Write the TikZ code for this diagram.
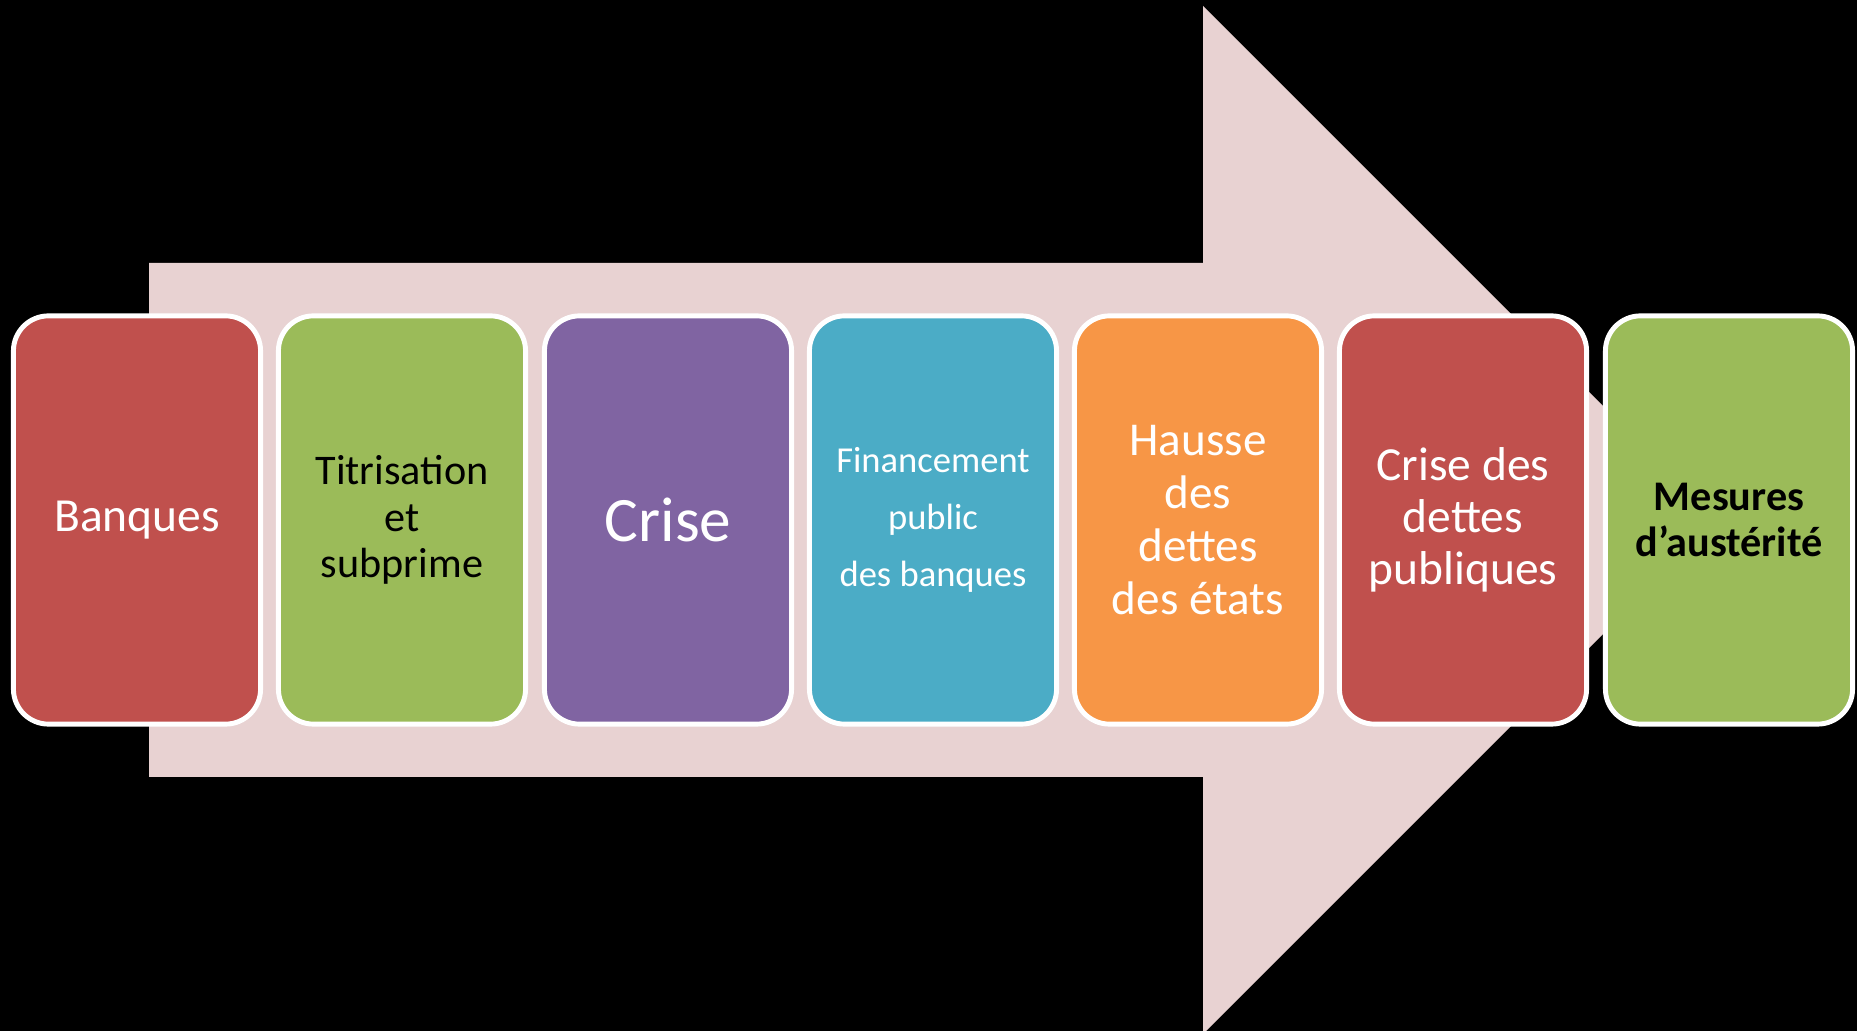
\documentclass[tikz,border=0pt]{standalone}
\usepackage{fontspec}
\setmainfont{Carlito}
\definecolor{bgblack}{HTML}{000000}
\definecolor{arrowpink}{HTML}{E8D2D2}
\definecolor{cred}{HTML}{C0504D}
\definecolor{cgreen}{HTML}{9BBB59}
\definecolor{cpurple}{HTML}{8064A2}
\definecolor{cteal}{HTML}{4BACC6}
\definecolor{corange}{HTML}{F79646}
\begin{document}
\begin{tikzpicture}[x=0.01cm,y=-0.01cm,
  stagebox/.style={draw=white, line width=1.4pt, rounded corners=0.35cm,
    minimum width=2.47cm, minimum height=4.08cm, align=flush center, text width=2.3cm,
    inner sep=0pt},
]
\useasboundingbox (0,0) rectangle (1857,1031);
\fill[bgblack] (0,0) rectangle (1857,1031);
\begin{scope}
\clip (0,0) rectangle (1857,1031);
\fill[arrowpink] (149,263) -- (1203,263) -- (1203,6) -- (1717,520) -- (1203,1034) -- (1203,777) -- (149,777) -- cycle;
\end{scope}
\node[stagebox, fill=cred, text=white, font=\fontsize{13.5}{16}\selectfont] (b1) at (137,520) {Banques};
\node[stagebox, fill=cgreen, text=black, font=\fontsize{12}{13.3}\selectfont] (b2) at (402,520) {Titrisation\\et\\subprime};
\node[stagebox, fill=cpurple, text=white, font=\fontsize{18}{20}\selectfont] (b3) at (668,520) {Crise};
\node[stagebox, fill=cteal, text=white, font=\fontsize{10.4}{16.2}\selectfont] (b4) at (933,520) {Financement\\public\\des banques};
\node[stagebox, fill=corange, text=white, font=\fontsize{13.4}{15}\selectfont] (b5) at (1198,520) {Hausse\\des\\dettes\\des états};
\node[stagebox, fill=cred, text=white, font=\fontsize{13.5}{14.7}\selectfont] (b6) at (1463,520) {Crise des\\dettes\\publiques};
\node[stagebox, fill=cgreen, text=black, font=\bfseries\fontsize{12}{13}\selectfont] (b7) at (1729,520) {Mesures\\d’austérité};
\end{tikzpicture}
\end{document}
